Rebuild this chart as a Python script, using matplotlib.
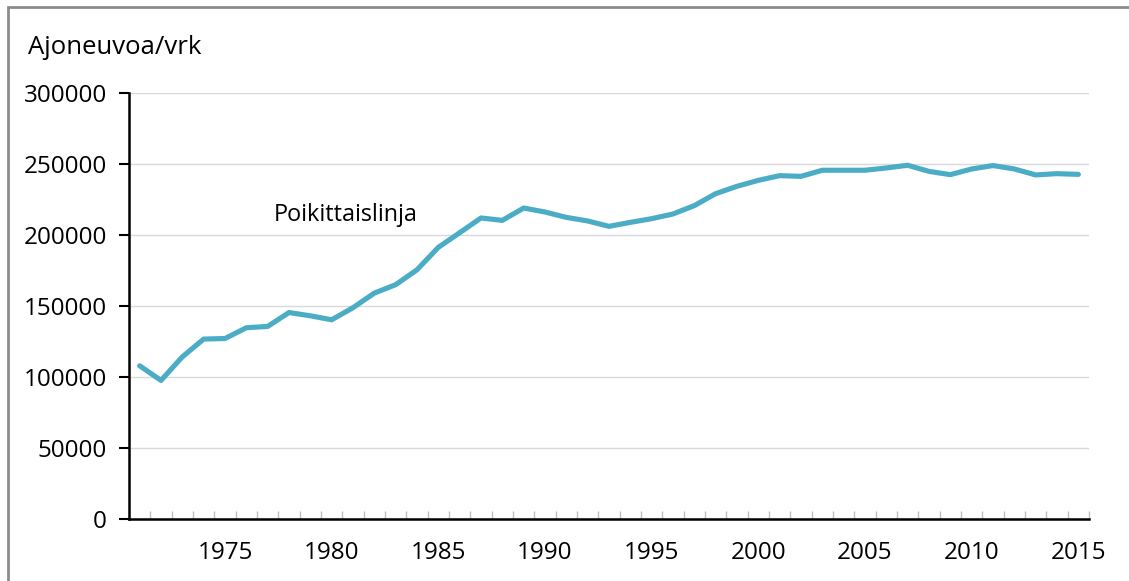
import matplotlib
matplotlib.use("Agg")
import matplotlib.pyplot as plt
from matplotlib.patches import Rectangle
from matplotlib.ticker import FixedLocator, FuncFormatter

plt.rcParams['font.family'] = ['Open Sans', 'DejaVu Sans']

years = list(range(1971, 2016))
traffic = [
    107900, 97600, 114200, 126700, 127100, 134700, 135600, 145400, 143100, 140300,
    148800, 159100, 165000, 175500, 191300, 201600, 212000, 210300, 219000, 216200,
    212400, 209900, 206100, 208900, 211500, 214800, 220700, 229100, 234300, 238500,
    241800, 241300, 245600, 245600, 245600, 247200, 249100, 244800, 242500, 246500,
    248900, 246500, 242300, 243200, 242700,
]
y_ticks = [0, 50000, 100000, 150000, 200000, 250000, 300000]
year_labels = [1975, 1980, 1985, 1990, 1995, 2000, 2005, 2010, 2015]
series_label = "Poikittaislinja"
unit_label = "Ajoneuvoa/vrk"

W, H = 1129, 581
fig = plt.figure(figsize=(W / 100, H / 100), dpi=100)
fig.patch.set_facecolor("white")

# outer frame around the chart area
fig.patches.append(Rectangle((8 / W, -0.05), 1.2, 1 - 7 / H + 0.05,
                             transform=fig.transFigure, fill=False,
                             edgecolor="#8c8c8c", linewidth=2.0, zorder=0))

ax = fig.add_axes([129 / W, (H - 519) / H, (1089 - 129) / W, (519 - 93) / H])
idx = list(range(len(years)))
ax.plot(idx, traffic, color="#4BACC6", linewidth=3.7, solid_joinstyle="round",
        solid_capstyle="round", zorder=3)

ax.set_xlim(-0.5, len(years) - 0.5)
ax.set_ylim(0, 300000)

ax.set_yticks(y_ticks)
ax.yaxis.set_major_formatter(FuncFormatter(lambda v, p: f"{int(v)}"))
ax.grid(axis="y", color="#d9d9d9", linewidth=1.0)
ax.set_axisbelow(True)

major_pos = [years.index(y) for y in year_labels]
ax.xaxis.set_major_locator(FixedLocator(major_pos))
ax.set_xticklabels([str(y) for y in year_labels])
ax.xaxis.set_minor_locator(FixedLocator([i - 0.5 for i in range(len(years) + 1)]))
ax.tick_params(axis="x", which="major", length=0, pad=16, labelsize=17.5)
ax.tick_params(axis="x", which="minor", direction="in", length=6,
               color="#bfbfbf", width=1.0)
ax.tick_params(axis="y", which="major", direction="out", length=7, width=1.5,
               color="black", labelsize=17.5, pad=9)

for s in ["top", "right"]:
    ax.spines[s].set_visible(False)
ax.spines["left"].set_linewidth(1.8)
ax.spines["bottom"].set_linewidth(1.8)

fig.text(28 / W, 1 - 48 / H, unit_label, fontsize=18.5, va="center", ha="left")
ax.text(years.index(1978) - 0.7, 214000, series_label, fontsize=16.8,
        va="center", ha="left")

fig.savefig("out.png", dpi=100, facecolor="white")
